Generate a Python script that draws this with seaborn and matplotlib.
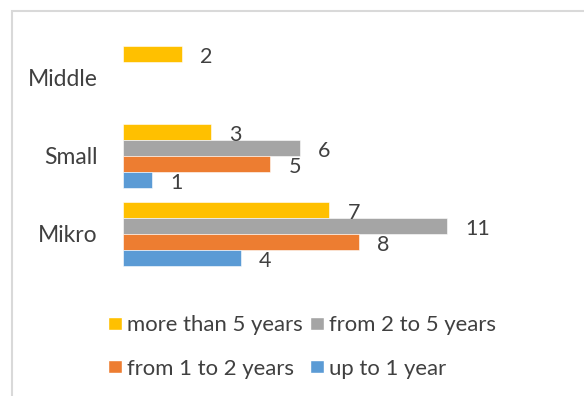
import matplotlib
matplotlib.use("Agg")
import matplotlib.pyplot as plt
from matplotlib.patches import Rectangle, Patch
import seaborn as sns
import pandas as pd

categories = ["Middle", "Small", "Mikro"]
series = ["more than 5 years", "from 2 to 5 years", "from 1 to 2 years", "up to 1 year"]
more_than_5 = [2, 3, 7]
from_2_to_5 = [0, 6, 11]
from_1_to_2 = [0, 5, 8]
up_to_1 = [0, 1, 4]
colors = ["#FFC000", "#A5A5A5", "#ED7D31", "#5B9BD5"]

values = [more_than_5, from_2_to_5, from_1_to_2, up_to_1]
rows = []
for s, vals in zip(series, values):
    for c, v in zip(categories, vals):
        rows.append({"category": c, "series": s, "value": v})
df = pd.DataFrame(rows)

sns.set_theme(style="white")
plt.rcParams["font.family"] = ["Lato", "DejaVu Sans"]

W, H = 584, 396
fig = plt.figure(figsize=(W / 100, H / 100), dpi=100)
ax = fig.add_axes([123 / W, 1 - 273 / H, 438 / W, 234 / H])

sns.barplot(data=df, y="category", x="value", hue="series", order=categories,
            hue_order=series, palette=colors, orient="h", width=0.82,
            saturation=1, ax=ax, legend=False, edgecolor="white", linewidth=0.4)

for cont in ax.containers:
    labels = [f"{int(v)}" if v > 0 else "" for v in cont.datavalues]
    texts = ax.bar_label(cont, labels=labels, padding=13, fontsize=15.5, color="#404040")
    for t in texts:
        t.set_va("center")
        t.xyann = (13, -2.5)

ax.set_xlim(0, 14.85)
ax.set_ylim(2.5, -0.5)
ax.set_xlabel("")
ax.set_ylabel("")
ax.set_xticks([])
for sp in ax.spines.values():
    sp.set_visible(False)
ax.tick_params(axis="y", length=0, pad=18, labelsize=16.5, labelcolor="#404040")

# border
fig.patches.append(Rectangle((12 / W, -0.1), 1.2, 1 - 11 / H + 0.1,
                             transform=fig.transFigure, fill=False,
                             edgecolor="#d9d9d9", linewidth=1.5))

handles = [Patch(facecolor=c) for c in colors]
order = [0, 2, 1, 3]
leg = fig.legend([handles[i] for i in order], [series[i] for i in order], ncol=2,
                 loc="center left", bbox_to_anchor=(88 / W, 1 - 347 / H),
                 frameon=False, fontsize=15.9, handlelength=0.63, handleheight=0.55,
                 handletextpad=0.25, columnspacing=0.3, labelspacing=1.05,
                 labelcolor="#404040")

fig.savefig("out.png", dpi=100)
